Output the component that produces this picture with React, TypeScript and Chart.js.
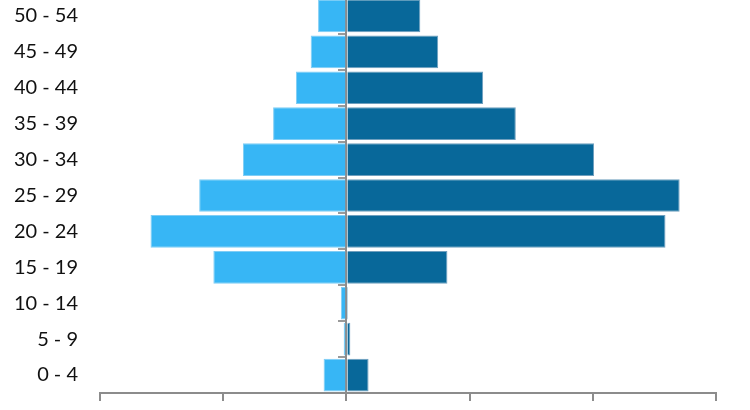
import React, { useEffect, useRef } from "react";
import { Chart, registerables } from "chart.js";

Chart.register(...registerables);

const categories = ["50 - 54", "45 - 49", "40 - 44", "35 - 39", "30 - 34", "25 - 29", "20 - 24", "15 - 19", "10 - 14", "5 - 9", "0 - 4"];
const leftValues = [-2.3, -2.9, -4.1, -5.95, -8.4, -11.95, -15.9, -10.8, -0.45, -0.22, -1.85];
const rightValues = [6.0, 7.45, 11.1, 13.75, 20.1, 27.05, 25.9, 8.2, 0.13, 0.32, 1.8];
const xMin = -20;
const xMax = 30;
const xStep = 10;

export default function App() {
  const ref = useRef<HTMLCanvasElement | null>(null);
  useEffect(() => {
    if (!ref.current) return;
    const chart = new Chart(ref.current, {
      type: "bar",
      data: {
        labels: categories,
        datasets: [
          {
            label: "left",
            data: leftValues,
            backgroundColor: "#37b6f5",
            borderColor: "#7fcdf5",
            borderWidth: 1,
            barPercentage: 0.91,
            categoryPercentage: 1,
            yAxisID: "y",
            xAxisID: "x",
          },
          {
            label: "right",
            data: rightValues,
            backgroundColor: "#08689a",
            borderColor: "#6f9fbe",
            borderWidth: 1,
            barPercentage: 0.91,
            categoryPercentage: 1,
            yAxisID: "y",
            xAxisID: "x",
          },
        ],
      },
      options: {
        indexAxis: "y",
        animation: false,
        responsive: true,
        maintainAspectRatio: false,
        layout: { padding: { left: 0, right: 34, top: 8, bottom: 0 } },
        plugins: { legend: { display: false }, tooltip: { enabled: false } },
        scales: {
          x: {
            type: "linear",
            position: "bottom",
            stacked: true,
            min: xMin,
            max: xMax,
            ticks: { stepSize: xStep, display: false },
            grid: {
              drawOnChartArea: false,
              drawTicks: true,
              tickLength: 8,
              color: "#8c8c8c",
              lineWidth: 2,
            },
            border: { display: true, color: "#8c8c8c", width: 2 },
            afterFit: (s: any) => {
              s.height = 17;
              s.paddingLeft = 0;
              s.paddingRight = 0;
            },
          },
          y: {
            type: "category",
            position: "left",
            stacked: true,
            offset: true,
            grid: { display: false, drawTicks: false, offset: true },
            border: { display: false },
            ticks: {
              padding: 22,
              color: "#111111",
              font: { family: "Lato", size: 20 },
            },
            afterFit: (s: any) => {
              s.width = 100;
              s.paddingTop = 0;
              s.paddingBottom = 0;
            },
          },
          yz: {
            type: "category",
            axis: "y",
            position: { x: 0 } as any,
            offset: true,
            z: 1,
            ticks: { display: false },
            grid: {
              offset: true,
              drawOnChartArea: false,
              drawTicks: true,
              tickLength: 7,
              color: "#9a9a9a",
              lineWidth: 2,
            },
            border: { display: true, color: "#8c8c8c", width: 2 },
            afterFit: (s: any) => {
              s.paddingTop = 0;
              s.paddingBottom = 0;
            },
          },
        },
      } as any,
    });
    return () => chart.destroy();
  }, []);
  return (
    <div style={{ position: "absolute", left: 0, top: -10, width: 750, height: 420 }}>
      <canvas ref={ref} />
    </div>
  );
}
